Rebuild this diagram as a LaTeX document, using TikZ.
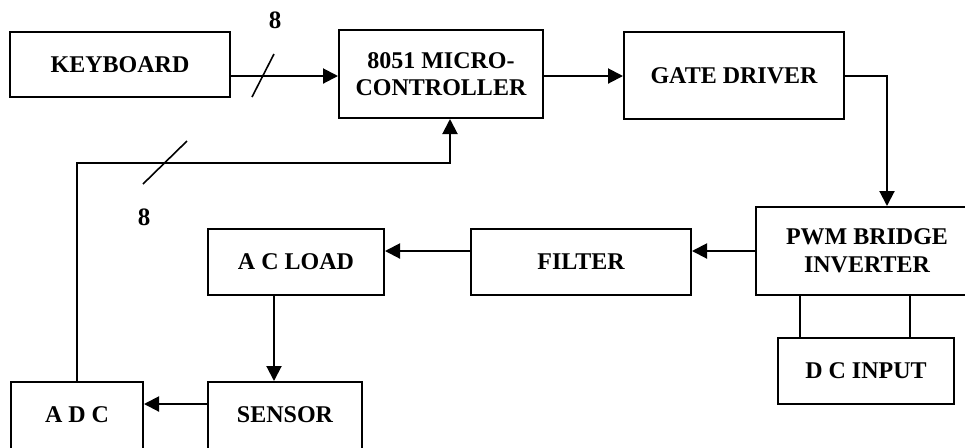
\documentclass[tikz,border=0pt]{standalone}
\usepackage{fontspec}
\setmainfont{Liberation Serif}
\usetikzlibrary{arrows.meta}

\tikzset{
  blk/.style={draw, line width=1pt, align=center, inner sep=2pt,
    font=\fontsize{12}{13.8}\selectfont\bfseries},
  conn/.style={line width=1pt, -{Triangle[length=7.5pt,width=7.5pt]}},
  lbl/.style={font=\fontsize{12.5}{14}\selectfont\bfseries, inner sep=0pt}
}

\begin{document}
\begin{tikzpicture}[x=0.5pt,y=-0.5pt]
        \useasboundingbox (0,0) rectangle (965,447);
        \clip (0,0) rectangle (965,447);

        % top row
        \node[blk, minimum width=110pt, minimum height=32.5pt] (kbd) at (120,64.5) {KEYBOARD};
        \node[blk, minimum width=102pt, minimum height=44pt] (mc) at (441,74) {8051 MICRO-\\CONTROLLER};
        \node[blk, minimum width=110pt, minimum height=43.5pt] (gd) at (734,75.5) {GATE DRIVER};

        % middle row
        \node[blk, minimum width=111pt, minimum height=44pt] (pwm) at (867,251) {PWM BRIDGE\\INVERTER};
        \node[blk, minimum width=110pt, minimum height=33pt] (filt) at (581,262) {FILTER};
        \node[blk, minimum width=88pt, minimum height=33pt] (acl) at (296,262) {A C LOAD};
        \node[blk, minimum width=88pt, minimum height=33pt] (dc) at (866,371) {D C INPUT};

        % bottom row (cut by the page edge)
        \node[blk, minimum width=77pt, minimum height=36pt, text depth=3pt] (sen) at (285,418) {SENSOR};
        \node[blk, minimum width=66pt, minimum height=36pt, text depth=3pt] (adc) at (77,418) {A D C};

        % keyboard to controller, 8 lines
        \coordinate (mcin1) at ([yshift=-1pt]mc.west);
        \draw[conn] (mcin1 -| kbd.east) -- (mcin1);
        \draw[line width=0.8pt] (252,97) -- (274,54);
        \node[lbl] (bus1) at (275,20) {8};

        % controller to gate driver to inverter
        \coordinate (mcout) at ([yshift=-1pt]mc.east);
        \draw[conn] (mcout) -- (mcout -| gd.west);
        \draw[conn] (gd.east) -| ([xshift=10pt]pwm.north);

        % power path
        \draw[conn] (pwm.west) -- (pwm.west -| filt.east);
        \draw[conn] (pwm.west -| filt.west) -- (pwm.west -| acl.east);
        \coordinate (aclout) at ([xshift=-11pt]acl.south);
        \draw[conn] (aclout) -- (aclout |- sen.north);
        \coordinate (senout) at (sen.west |- 0,404);
        \draw[conn] (senout) -- (senout -| adc.east);

        % dc input
        \foreach \dx in {-33,22}
          \draw[line width=1pt] ([xshift=\dx pt]dc.north) -- ++(0,-43);

        % feedback, 8 lines
        \coordinate (fbturn) at (77,163);
        \coordinate (mcin) at ([xshift=4.5pt]mc.south);
        \draw[conn] (adc.north) -- (fbturn) -| (mcin);
        \draw[line width=0.8pt] (143,184) -- (187,141);
        \node[lbl] (bus2) at (144,217) {8};
      \end{tikzpicture}
\end{document}
